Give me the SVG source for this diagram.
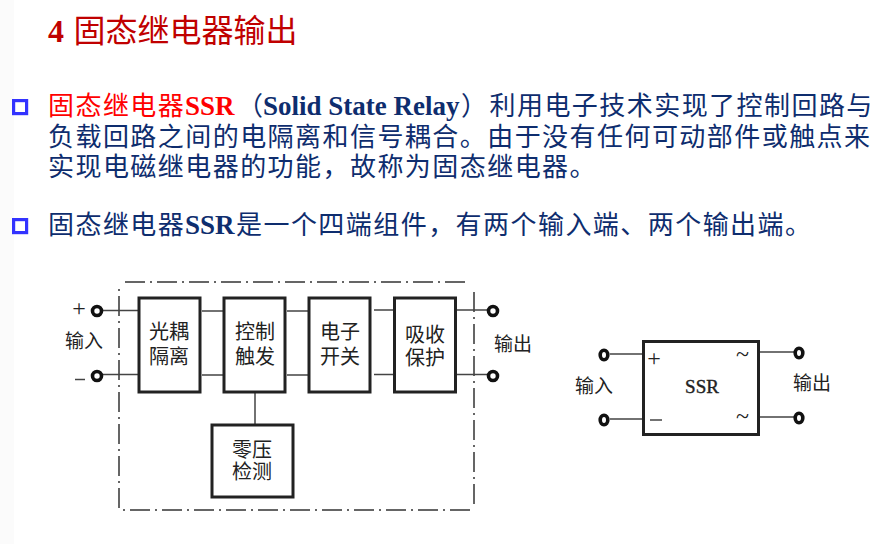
<svg xmlns="http://www.w3.org/2000/svg" width="891" height="544" viewBox="0 0 891 544">
<style>
text{font-family:"Noto Sans CJK SC","Liberation Serif",serif}
.lat{font-family:"Liberation Serif","Noto Sans CJK SC",serif;font-weight:bold;letter-spacing:0;font-size:27px}
.body{font-size:26px;letter-spacing:1.45px;fill:#0e2d6e}
.red{fill:#ff0000}
.lbl{font-size:20px;fill:#222;text-anchor:middle}
.sym{font-family:"Liberation Serif",serif;fill:#222;text-anchor:middle;font-size:24px}
.box{fill:#fff;stroke:#222;stroke-width:3}
.wire{stroke:#444;stroke-width:1.5;fill:none}
.term{fill:#fff;stroke:#111;stroke-width:3.6}
.dash{stroke:#333;stroke-width:1.5;fill:none;stroke-dasharray:20 5 2 5}
.bul{fill:#fff;stroke:#3333ff;stroke-width:3.2}
</style>
<rect width="891" height="544" fill="#fff"/>
<rect width="14" height="544" fill="#fbfbfb"/>
<g id="title"><text x="48" y="42" font-size="32" fill="#c00000"><tspan class="lat" style="font-size:32px">4</tspan><tspan x="73.500">固态继电器输出</tspan></text></g>
<g id="bullets">
<rect class="bul" x="13.600" y="100.600" width="13" height="13"/>
<rect class="bul" x="13.600" y="219.600" width="13" height="13"/>
</g>
<g id="paragraphs">
<text class="body" x="48" y="115"><tspan class="red">固态继电器</tspan><tspan class="lat red" x="185">SSR</tspan><tspan x="237">（</tspan><tspan class="lat" x="263">Solid State Relay</tspan><tspan x="461">）</tspan><tspan x="489.500">利用电子技术实现了控制回路与</tspan></text>
<text class="body" x="48" y="146">负载回路之间的电隔离和信号耦合。由于没有任何可动部件或触点来</text>
<text class="body" x="48" y="176">实现电磁继电器的功能，故称为固态继电器。</text>
<text class="body" x="48" y="234">固态继电器<tspan class="lat" x="185">SSR</tspan><tspan x="236">是一个四端组件，有两个输入端、两个输出端。</tspan></text>
</g>
<g id="connectors">
<path class="dash" d="M125 282H470M474 292V509M470 510H122M119 508V284"/>
<path class="wire" d="M102 310.500H139M102 374.500H139M202 311H224M202 375H224M287 311H309M287 375H309M374 310H394M374 374.500H394M456 310H488M456 374.500H488M255 392V425"/>
<path class="wire" d="M610 354H643M610 419H643M759 352H795M759 417H795"/>
</g>
<g id="terminals">
<circle class="term" cx="97" cy="311" r="4.500"/><circle class="term" cx="97" cy="376" r="4.500"/>
<circle class="term" cx="493" cy="311" r="4.500"/><circle class="term" cx="493" cy="376" r="4.500"/>
<ellipse class="term" cx="604" cy="355" rx="3.800" ry="4.800"/><ellipse class="term" cx="604" cy="420" rx="3.800" ry="4.800"/>
<ellipse class="term" cx="799" cy="353" rx="3.800" ry="4.800"/><ellipse class="term" cx="799" cy="418" rx="3.800" ry="4.800"/>
</g>
<g id="node-optocoupler"><rect class="box" x="139" y="298" width="61" height="94"/><text class="lbl" x="169" y="339">光耦</text><text class="lbl" x="169" y="364">隔离</text></g>
<g id="node-trigger"><rect class="box" x="224" y="298" width="61" height="94"/><text class="lbl" x="255" y="339">控制</text><text class="lbl" x="255" y="364">触发</text></g>
<g id="node-switch"><rect class="box" x="309" y="298" width="61" height="94"/><text class="lbl" x="340" y="339">电子</text><text class="lbl" x="340" y="364">开关</text></g>
<g id="node-protect"><rect class="box" x="394.500" y="298" width="61" height="94"/><text class="lbl" x="425" y="342">吸收</text><text class="lbl" x="425" y="365">保护</text></g>
<g id="node-zero"><rect class="box" x="212" y="425" width="81" height="72"/><text class="lbl" x="252" y="457">零压</text><text class="lbl" x="252" y="479">检测</text></g>
<g id="node-ssr"><rect class="box" x="643.500" y="341.500" width="115" height="93"/>
<text x="702" y="393" font-size="19" fill="#222" stroke="#222" stroke-width="0.400" text-anchor="middle" style="font-family:'Liberation Serif',serif">SSR</text>
<text class="sym" x="654" y="366">+</text><path class="wire" d="M650 420H662"/>
<text class="sym" x="742.500" y="362">~</text><text class="sym" x="742.500" y="424">~</text></g>
<g id="labels">
<text class="sym" x="79" y="316">+</text><path class="wire" d="M75 379.500H85"/>
<text class="lbl" x="84" y="348" style="font-size:19px">输入</text>
<text class="lbl" x="513" y="351" style="font-size:19px">输出</text>
<text class="lbl" x="594" y="393" style="font-size:19px">输入</text>
<text class="lbl" x="812" y="390" style="font-size:19px">输出</text>
</g>
</svg>
